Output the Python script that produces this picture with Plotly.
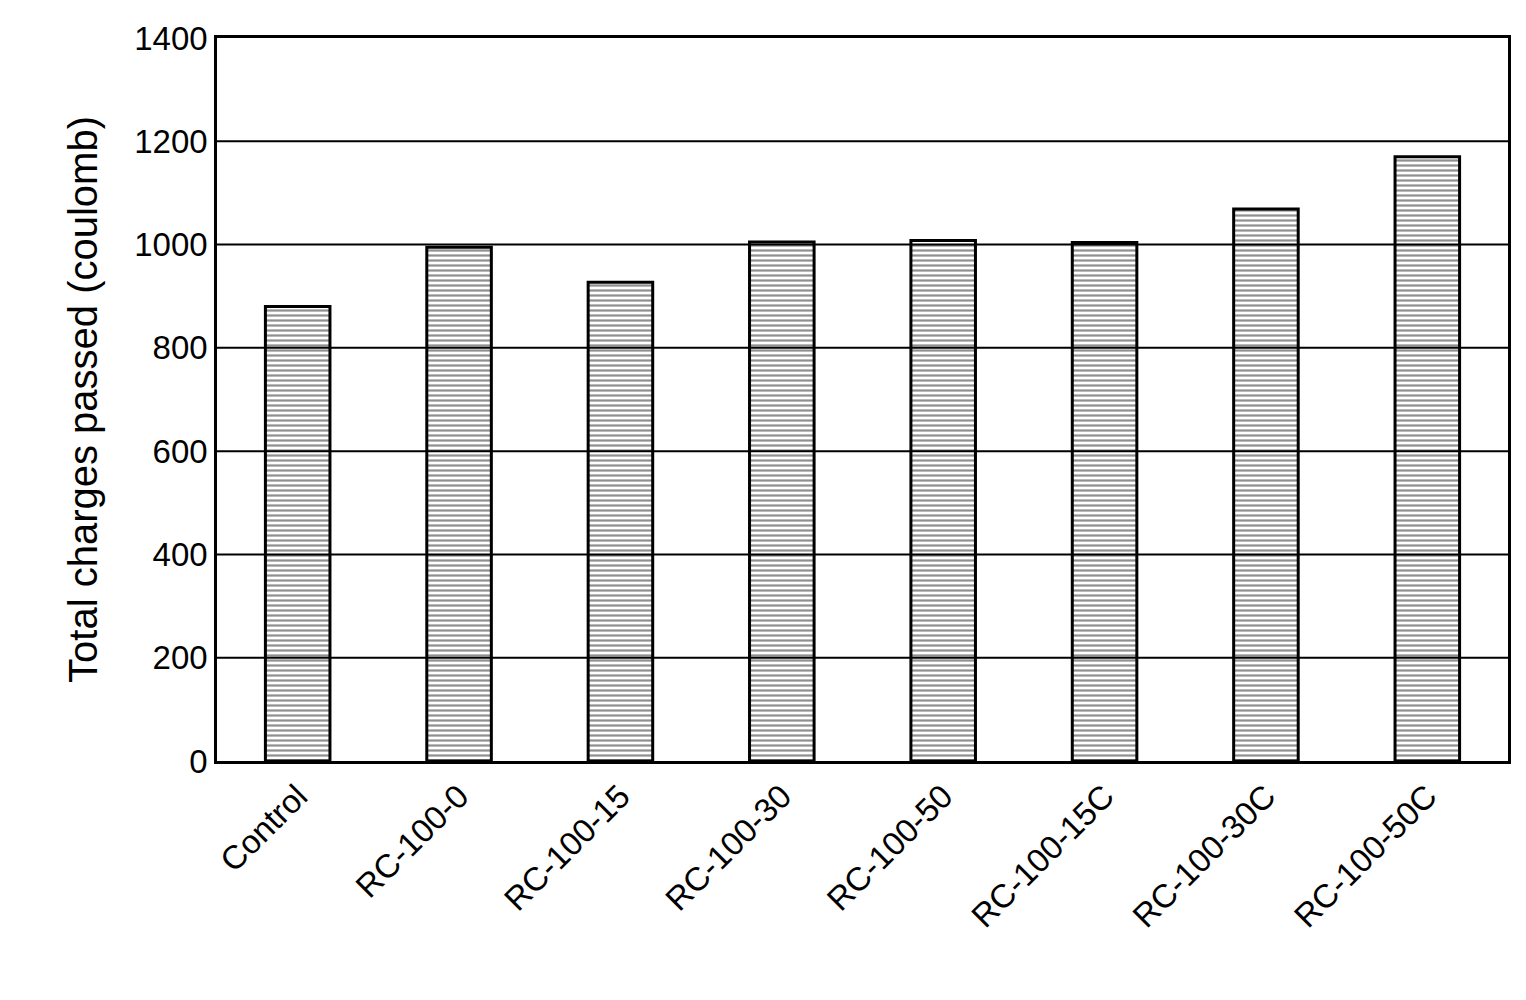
import plotly.graph_objects as go

# Muestras y cargas totales (coulomb)
muestras = ['Control', 'RC-100-0', 'RC-100-15', 'RC-100-30', 'RC-100-50',
            'RC-100-15C', 'RC-100-30C', 'RC-100-50C']
cargas = [880, 995, 927, 1005, 1008, 1004, 1069, 1170]
marcas_y = [0, 200, 400, 600, 800, 1000, 1200, 1400]

fig = go.Figure()

fig.add_trace(go.Bar(x=muestras, y=cargas, width=0.4,
                     marker=dict(color='white', line=dict(color='black', width=3),
                                 pattern=dict(shape='-', fgcolor='#222222', bgcolor='white',
                                              size=5, solidity=0.45))))

# lineas de rejilla encima de las barras
for v in marcas_y[1:-1]:
    fig.add_shape(type='line', xref='paper', yref='y', x0=0, x1=1, y0=v, y1=v,
                  line=dict(color='black', width=2), layer='above')

fig.update_layout(width=1526, height=1000, plot_bgcolor='white', paper_bgcolor='white',
                  margin=dict(l=209, r=26, t=22, b=247), showlegend=False,
                  font=dict(family='Liberation Sans, Arial', size=33, color='black'))

fig.update_xaxes(showline=True, linecolor='black', linewidth=2.5, mirror=True,
                 tickangle=-45, ticks='', showgrid=False, layer='above traces')
fig.update_yaxes(range=[0, 1400], tickvals=marcas_y, showline=True, linecolor='black',
                 linewidth=2.5, mirror=True, showgrid=False,
                 layer='above traces', zeroline=False, ticks='',
                 title=dict(text='Total charges passed (coulomb)', standoff=25))

fig.write_html("out.html")
